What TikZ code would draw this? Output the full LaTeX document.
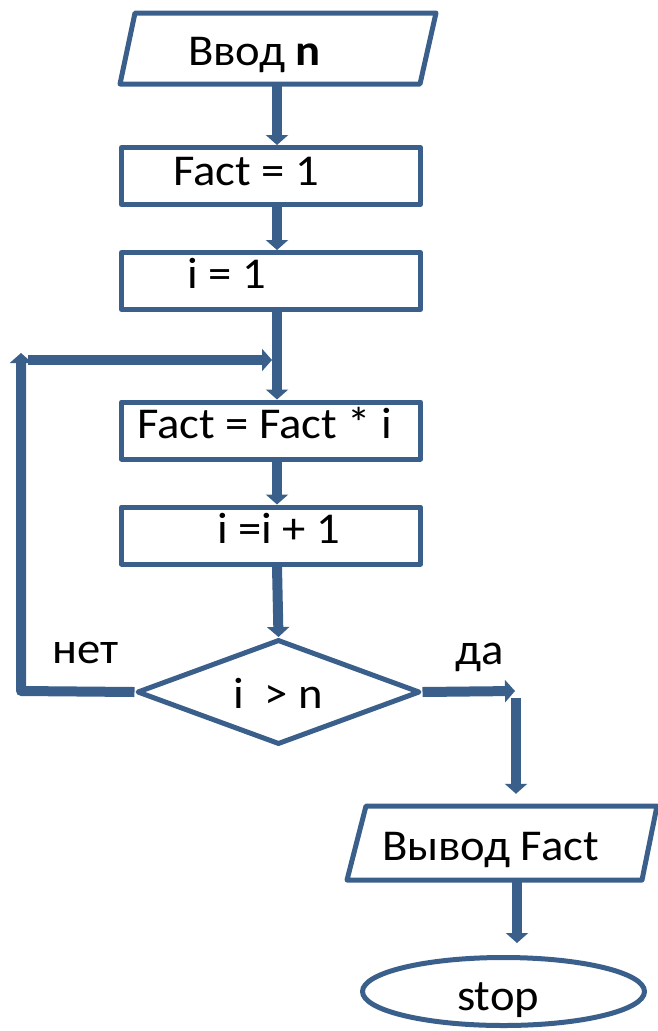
\documentclass[tikz,border=0pt]{standalone}
\usepackage{fontspec}
\setmainfont{Carlito}[FakeStretch=1.06]
\usetikzlibrary{arrows.meta,shapes.geometric}
\definecolor{fb}{RGB}{58,95,139}
\begin{document}
\begin{tikzpicture}[x=1pt,y=-1pt,
  shapeline/.style={draw=fb,line width=5pt,line join=round},
  box/.style={shapeline,rectangle,minimum width=299pt,minimum height=57pt,inner sep=0pt},
  hit/.style={rectangle,draw=none,inner sep=0pt},
  lbl/.style={anchor=base west,inner sep=0pt,font=\fontsize{44}{53}\selectfont},
  conn/.style={draw=fb,line width=10pt,line join=round,-{Triangle[width=22pt,length=10pt]}},
  plain/.style={draw=fb,line width=10pt,line join=round}
]
\useasboundingbox (0,0) rectangle (658,1031);

% input parallelogram
\draw[shapeline] (135,13) -- (436,13) -- (420,84) -- (120,84) -- cycle;
\node[hit,minimum width=300pt,minimum height=71pt] (in) at (278,48.5) {};
\node[lbl] (tin) at (188,65) {Ввод \textbf{n}};

% process boxes
\node[box] (f1) at (271,176) {};
\node[lbl] (tf1) at (173,185) {Fact = 1};
\node[box] (i1) at (271,281) {};
\node[lbl] (ti1) at (187,288) {i = 1};
\node[box] (fi) at (271,430.5) {};
\node[lbl] (tfi) at (137,438) {Fact = Fact * i};
\node[box] (ii) at (271,535.5) {};
\node[lbl] (tii) at (217,543) {i =i + 1};

% decision
\node[shapeline,diamond,minimum width=283pt,minimum height=105pt,inner sep=0pt] (dec) at (278.5,692) {};
\node[lbl] (tdec) at (233,708) {i \ > n};
\node[lbl] (tno) at (52,663) {нет};
\node[lbl] (tyes) at (455,664) {да};

% output parallelogram
\draw[shapeline] (366,806) -- (657,806) -- (642,880) -- (347,880) -- cycle;
\node[hit,minimum width=300pt,minimum height=74pt] (out) at (502,843) {};
\node[lbl] (tout) at (382,860) {Вывод Fact};

% terminator
\node[shapeline,ellipse,minimum width=282pt,minimum height=68pt,inner sep=0pt] (stop) at (503.5,991.5) {};
\node[lbl] (tstop) at (457,1010) {stop};

% helper coordinates
\coordinate (sx) at (277,0);
\coordinate (lc) at (21,691);
\coordinate (lt) at (21,353);
\coordinate (lh) at (28,360);
\coordinate (lj) at (272,360);
\coordinate (yr) at (515,691);
\coordinate (ys) at (516,698);
\coordinate (ox) at (517,0);

% connectors
\draw[conn] (in.south -| sx) -- (f1.north -| sx);
\draw[conn] (f1.south -| sx) -- (i1.north -| sx);
\draw[conn] (i1.south -| sx) -- (fi.north -| sx);
\draw[conn] (fi.south -| sx) -- (ii.north -| sx);
\draw[conn] (ii.south -| sx) -- (dec.north);
\draw[conn] (dec.west) -- (lc) -- (lt);
\draw[conn] (lh) -- (lj);
\draw[conn] (dec.east) -- (yr);
\draw[conn,shorten >=12pt] (ys) -- (out.north -| ys);
\draw[conn,shorten >=12pt] (out.south -| ox) -- (stop.north -| ox);
\end{tikzpicture}
\end{document}
